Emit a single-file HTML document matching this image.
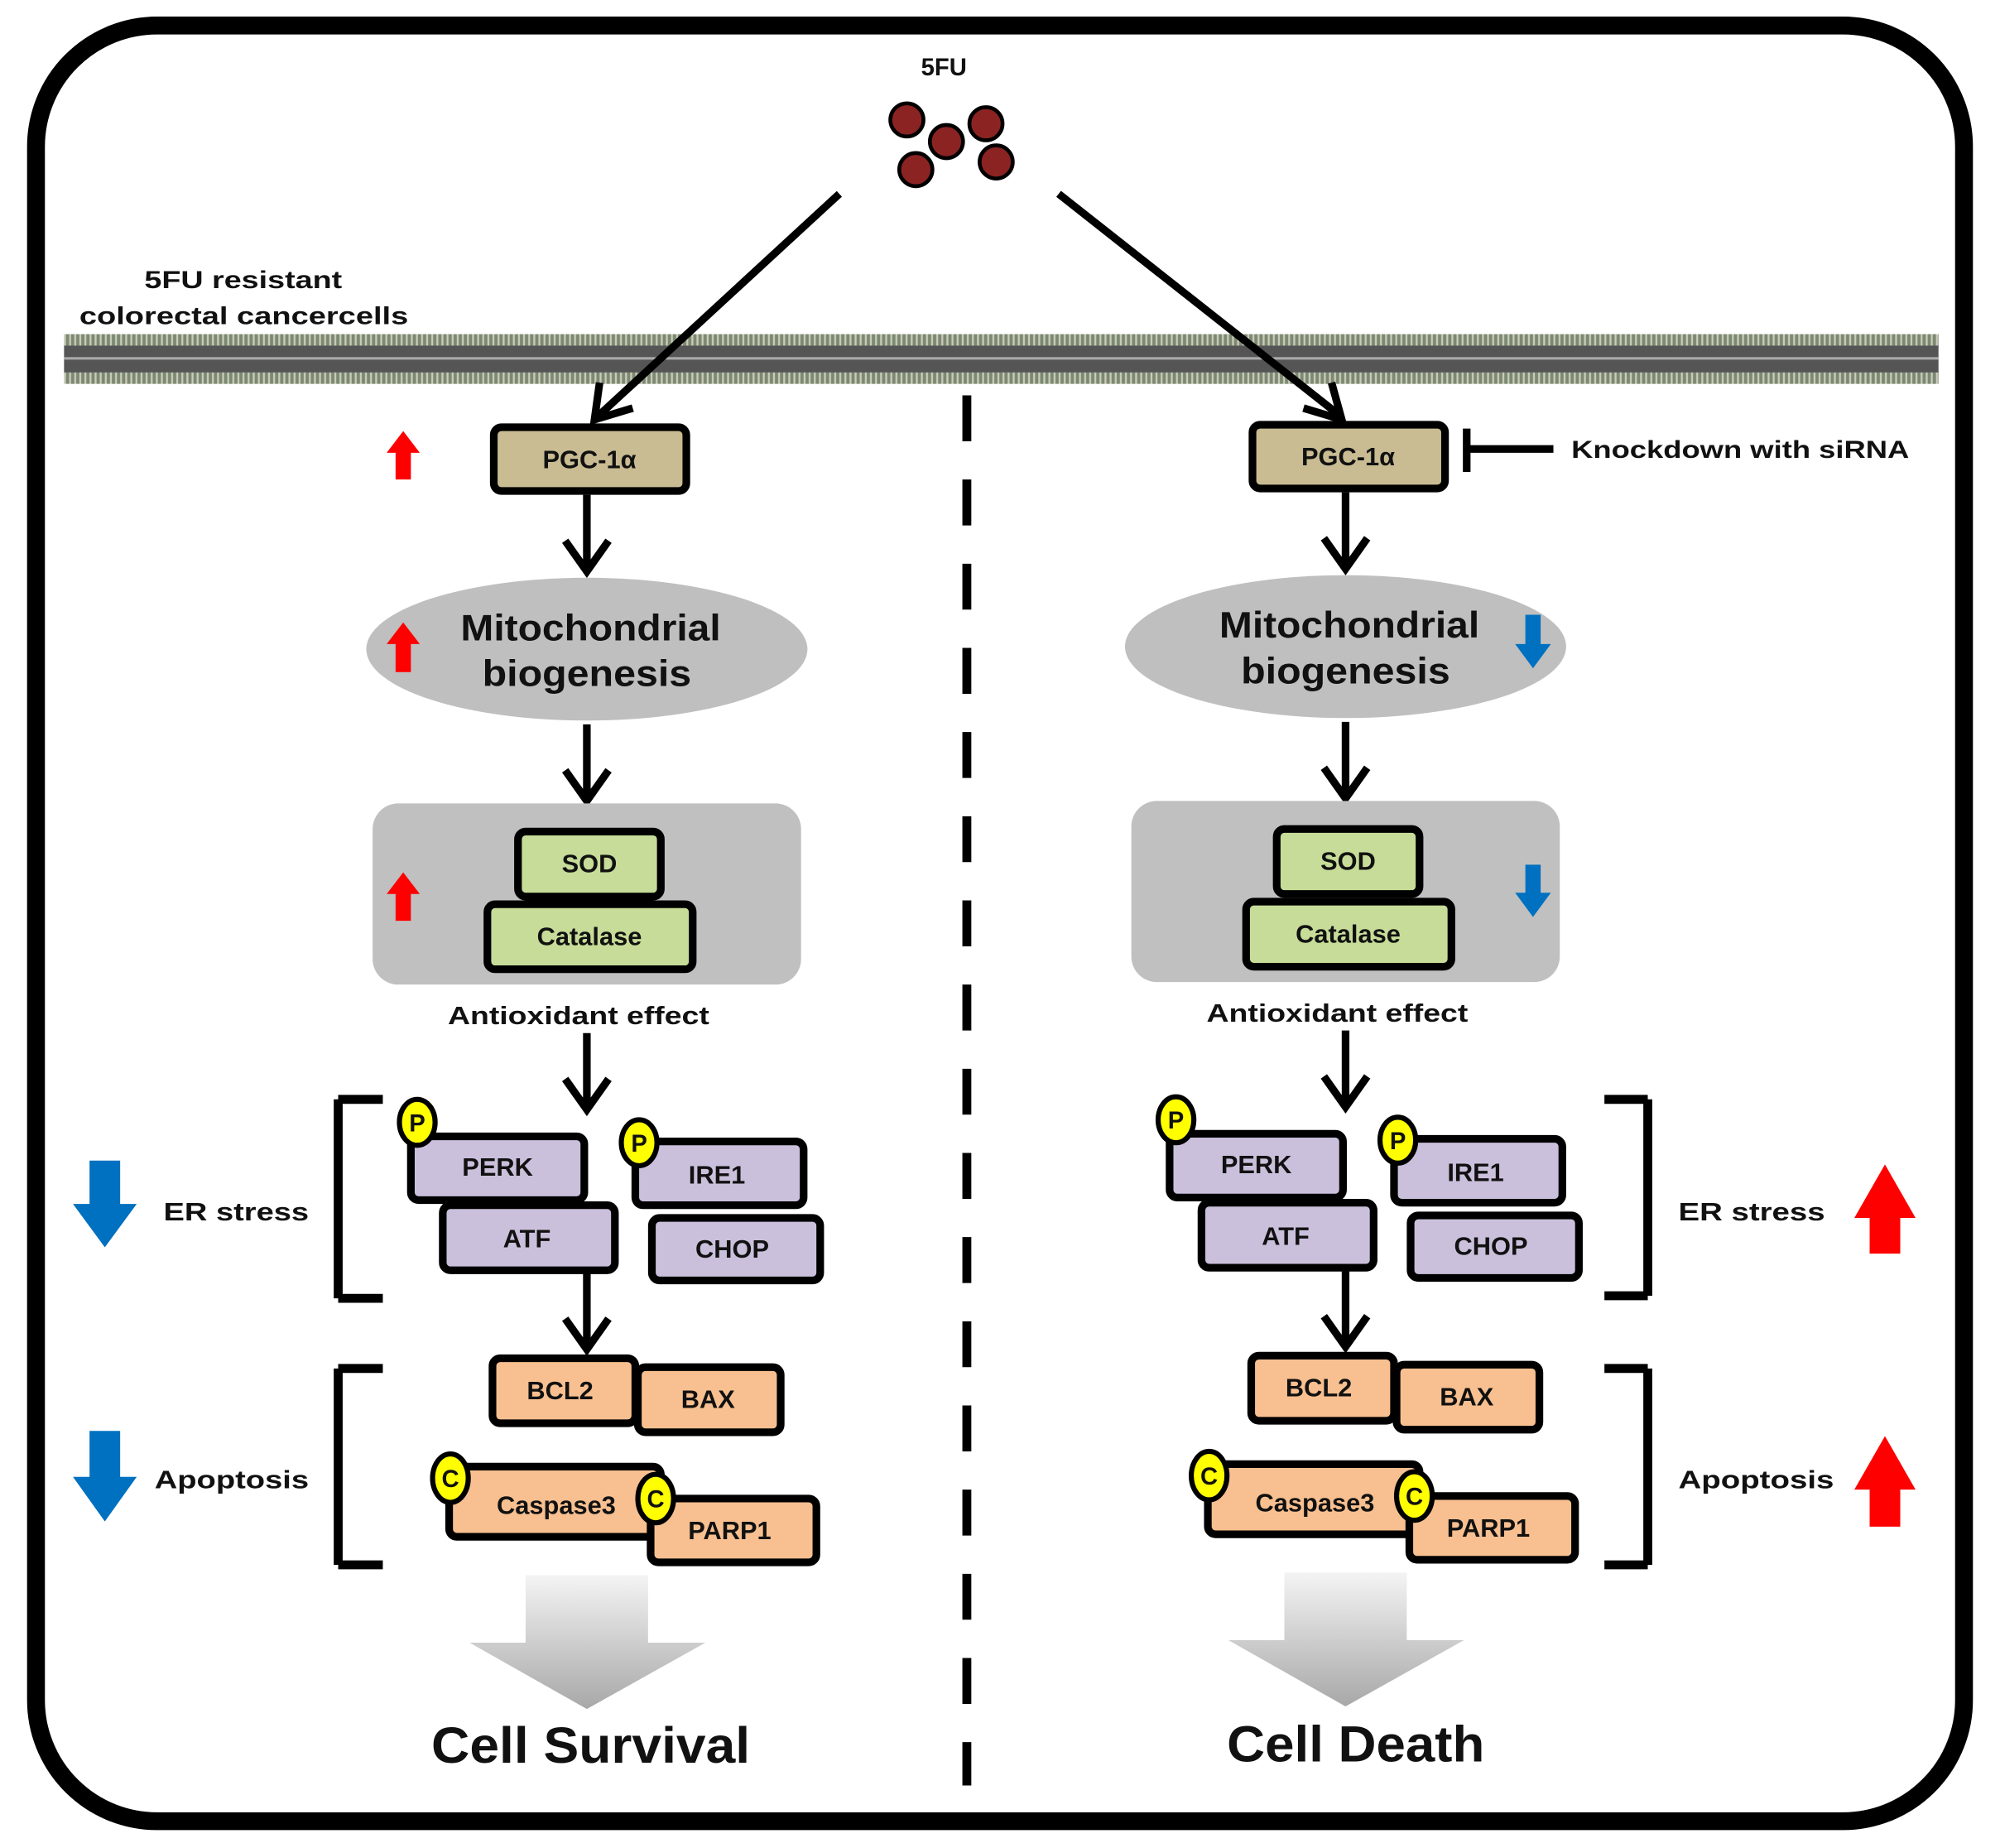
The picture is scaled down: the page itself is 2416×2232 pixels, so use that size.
<!DOCTYPE html>
<html><head><meta charset="utf-8"><style>
html,body{margin:0;padding:0;background:#fff}
svg{display:block}
text{font-family:"Liberation Sans",Arial,sans-serif;font-weight:bold;fill:#111}
</style></head><body>
<svg width="2416" height="2232" viewBox="0 0 1568 1449" xmlns="http://www.w3.org/2000/svg">
<defs>
<linearGradient id="bg" x1="0" y1="0" x2="0" y2="1">
<stop offset="0" stop-color="#f4f4f4"/><stop offset="1" stop-color="#a8a8a8"/></linearGradient>
<pattern id="lip" width="4" height="10" patternUnits="userSpaceOnUse">
<rect width="4" height="10" fill="#7d8870"/><rect x="2" width="1.5" height="10" fill="#c8ccbc"/></pattern>
<g id="side">
<rect x="387" y="335" width="151" height="50" rx="6" fill="#C9BC93" stroke="#000" stroke-width="6"/>
<text x="462" y="367" font-size="20" text-anchor="middle">PGC-1α</text>
<g stroke="#000" stroke-width="6" fill="none">
<path d="M460 388V446M443 424L460 448L477 424"/>
<path d="M460 568V626M443 604L460 628L477 604"/>
<path d="M460 810V868M443 846L460 870L477 846"/>
<path d="M460 998V1056M443 1034L460 1058L477 1034"/>
</g>
<ellipse cx="460" cy="509" rx="173" ry="56" fill="#BFBFBF"/>
<text x="361" y="502" font-size="29" textLength="204" lengthAdjust="spacingAndGlyphs">Mitochondrial</text>
<text x="378" y="538" font-size="29" textLength="164" lengthAdjust="spacingAndGlyphs">biogenesis</text>
<rect x="292" y="630" width="336" height="142" rx="20" fill="#C0C0C0"/>
<rect x="406" y="652" width="112" height="51" rx="6" fill="#C6DC98" stroke="#000" stroke-width="6"/>
<text x="462" y="684" font-size="20" text-anchor="middle">SOD</text>
<rect x="382" y="709" width="161" height="51" rx="6" fill="#C6DC98" stroke="#000" stroke-width="6"/>
<text x="462" y="741" font-size="20" text-anchor="middle">Catalase</text>
<text x="351" y="803" font-size="20" textLength="205" lengthAdjust="spacingAndGlyphs">Antioxidant effect</text>
<g stroke="#000" stroke-width="6">
<rect x="322" y="891" width="136" height="50" rx="6" fill="#CBC0DC"/>
<rect x="498" y="895" width="132" height="50" rx="6" fill="#CBC0DC"/>
<rect x="347" y="945" width="135" height="51" rx="6" fill="#CBC0DC"/>
<rect x="511" y="955" width="132" height="49" rx="6" fill="#CBC0DC"/>
<ellipse cx="327" cy="880" rx="14" ry="18" fill="#FFFF00" stroke-width="4"/>
<ellipse cx="501" cy="896" rx="14" ry="18" fill="#FFFF00" stroke-width="4"/>
<rect x="386" y="1065" width="112" height="51" rx="6" fill="#F8C090"/>
<rect x="500" y="1072" width="112" height="51" rx="6" fill="#F8C090"/>
<rect x="352" y="1150" width="166" height="55" rx="6" fill="#F8C090"/>
<rect x="510" y="1175" width="130" height="50" rx="6" fill="#F8C090"/>
<ellipse cx="353" cy="1159" rx="14" ry="19" fill="#FFFF00" stroke-width="4"/>
<ellipse cx="514" cy="1175" rx="14" ry="19" fill="#FFFF00" stroke-width="4"/>
</g>
<g font-size="20" text-anchor="middle">
<text x="390" y="922">PERK</text><text x="562" y="928">IRE1</text>
<text x="413" y="978">ATF</text><text x="574" y="986">CHOP</text>
<text x="439" y="1097">BCL2</text><text x="555" y="1104">BAX</text>
<text x="436" y="1187">Caspase3</text><text x="572" y="1207">PARP1</text>
<text x="327" y="887" font-size="19">P</text><text x="501" y="903" font-size="19">P</text>
<text x="353" y="1166" font-size="19">C</text><text x="514" y="1182" font-size="19">C</text>
</g>
<path d="M412 1235H508V1288H553L460 1340L368 1288H412Z" fill="url(#bg)"/>
</g>
</defs>
<rect x="28" y="20" width="1512" height="1408" rx="95" fill="#fff" stroke="#000" stroke-width="14"/>
<rect x="50" y="262" width="1470" height="10" fill="url(#lip)"/>
<rect x="50" y="291" width="1470" height="10" fill="url(#lip)"/>
<rect x="50" y="271" width="1470" height="21" fill="#555"/>
<rect x="50" y="280" width="1470" height="2" fill="#aaa"/>
<text x="113" y="226" font-size="19" textLength="155" lengthAdjust="spacingAndGlyphs">5FU resistant</text>
<text x="62" y="254" font-size="19" textLength="258" lengthAdjust="spacingAndGlyphs">colorectal cancercells</text>
<text x="740" y="59" font-size="19" text-anchor="middle">5FU</text>
<g fill="#8B2323" stroke="#000" stroke-width="3">
<circle cx="711" cy="94" r="13"/><circle cx="773" cy="97" r="13"/><circle cx="742" cy="111" r="13"/>
<circle cx="718" cy="133" r="13"/><circle cx="781" cy="127" r="13"/></g>
<g stroke="#000" stroke-width="6" fill="none">
<path d="M658 152L468 327M470 300L466 329L496 320"/>
<path d="M830 152L1052 327M1022 320L1052 329L1044 300"/>
<path d="M758 310V1400" stroke-width="7" stroke-dasharray="36 30"/>
<path d="M1150 352H1218M1150 336V370"/>
<path d="M265 862H300M265 862V1018M265 1018H300" stroke-width="7"/>
<path d="M265 1073H300M265 1073V1227M265 1227H300" stroke-width="7"/>
<path d="M1292 862H1258M1292 862V1016M1292 1016H1258" stroke-width="7"/>
<path d="M1292 1073H1258M1292 1073V1227M1292 1227H1258" stroke-width="7"/>
</g>
<use href="#side"/>
<use href="#side" transform="translate(595,-2)"/>
<text x="1232" y="359" font-size="19" textLength="265" lengthAdjust="spacingAndGlyphs">Knockdown with siRNA</text>
<g fill="#FF0000">
<path d="M316 338L329 355H322V376H310V355H303Z"/>
<path d="M316 488L329 505H322V527H310V505H303Z"/>
<path d="M316 684L329 701H322V722H310V701H303Z"/>
<path d="M1478 913L1502 955H1490V983H1466V955H1454Z"/>
<path d="M1478 1126L1502 1168H1490V1197H1466V1168H1454Z"/>
</g>
<g fill="#0070C0">
<path d="M1196 482H1208V505H1216L1202 524L1188 505H1196Z"/>
<path d="M1196 678H1208V700H1216L1202 719L1188 700H1196Z"/>
<path d="M70 910H94V944H107L82 978L57 944H70Z"/>
<path d="M70 1122H94V1158H107L82 1193L57 1158H70Z"/>
</g>
<text x="128" y="957" font-size="20" textLength="114" lengthAdjust="spacingAndGlyphs">ER  stress</text>
<text x="121" y="1167" font-size="20" textLength="121" lengthAdjust="spacingAndGlyphs">Apoptosis</text>
<text x="1316" y="957" font-size="20" textLength="115" lengthAdjust="spacingAndGlyphs">ER  stress</text>
<text x="1316" y="1167" font-size="20" textLength="122" lengthAdjust="spacingAndGlyphs">Apoptosis</text>
<text x="338" y="1382" font-size="40" textLength="250" lengthAdjust="spacingAndGlyphs">Cell Survival</text>
<text x="962" y="1381" font-size="40" textLength="202" lengthAdjust="spacingAndGlyphs">Cell Death</text>
</svg>
</body></html>
